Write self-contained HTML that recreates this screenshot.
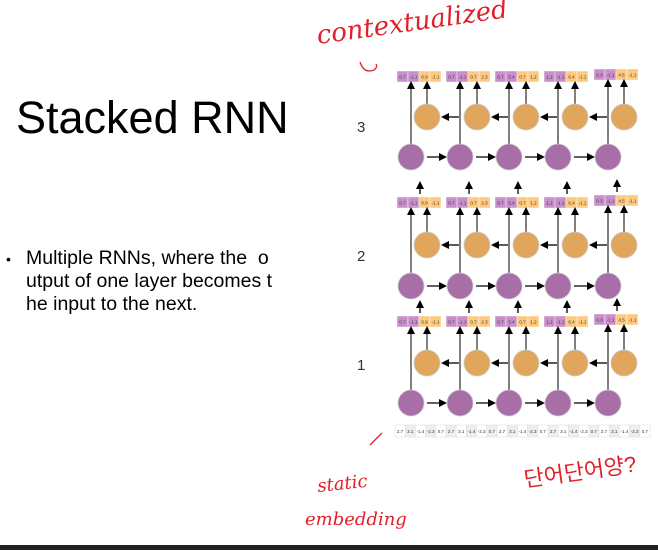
<!DOCTYPE html>
<html><head><meta charset="utf-8"><style>
html,body{margin:0;padding:0;background:#fff;}
body{width:658px;height:550px;position:relative;overflow:hidden;font-family:"Liberation Sans",sans-serif;}
</style></head><body>
<svg id="s" width="658" height="550" viewBox="0 0 658 550" xmlns="http://www.w3.org/2000/svg" font-family="Liberation Sans, sans-serif">
<defs><marker id="a" markerWidth="8" markerHeight="8" refX="6" refY="4" orient="auto" markerUnits="userSpaceOnUse"><path d="M0,0 L8,4 L0,8 z" fill="#000"/></marker></defs>
<text x="16" y="133" font-size="45" fill="#000">Stacked RNN</text>
<text x="6" y="264" font-size="14" fill="#000">•</text>
<text x="26" y="264" font-size="19.5" fill="#000" style="white-space:pre">Multiple RNNs, where the &#160;o</text>
<text x="26" y="287" font-size="19.5" fill="#000">utput of one layer becomes t</text>
<text x="26" y="310" font-size="19.5" fill="#000">he input to the next.</text>
<text x="357" y="132" font-size="15" fill="#333">3</text>
<text x="357" y="261" font-size="15" fill="#333">2</text>
<text x="357" y="370" font-size="15" fill="#333">1</text>
<g id="g"></g>
<text x="318" y="44" font-size="26" fill="#e0202a" font-family="DejaVu Serif, serif" font-style="italic" transform="rotate(-8 318 44)">contextualized</text>
<path d="M360,62 q4,12 14,8 q4,-3 2,-6" stroke="#e0202a" fill="none" stroke-width="1.3"/>
<path d="M370,445 l12,-12" stroke="#e0202a" fill="none" stroke-width="1.3"/>
<text x="318" y="492" font-size="18" fill="#e0202a" font-family="DejaVu Serif, serif" font-style="italic" transform="rotate(-6 318 492)">static</text>
<text x="305" y="525" font-size="18" fill="#e0202a" font-family="DejaVu Serif, serif" font-style="italic">embedding</text>
<text x="525" y="487" font-size="22" fill="#e0202a" font-family="WenQuanYi Zen Hei, sans-serif" transform="rotate(-8 525 487)">단어단어양?</text>
<rect x="0" y="545" width="658" height="5" fill="#222"/>
</svg>
<script>
var g=document.getElementById('g'),h='';
var px=[411,460,509,558,608],ox=[427,477,526,575,624];
var L=[{p:157,o:117,b:71},{p:286,o:245,b:197},{p:403,o:363,b:316}];
var vals=[["0.7","-1.1","0.9","-1.1"],["0.7","-1.1","0.7","2.3"],["0.7","5.4","0.7","1.2"],["1.2","-1.1","6.4","-1.1"],["0.3","-1.1","4.5","-1.1"]];
function ln(x1,y1,x2,y2,w){h+='<line x1="'+x1+'" y1="'+y1+'" x2="'+x2+'" y2="'+y2+'" stroke="'+(w?'#555':'#000')+'" stroke-width="'+(w||1.3)+'" marker-end="url(#a)"/>';}
L.forEach(function(l,li){
 for(var i=0;i<5;i++){
  var bx=px[i]-14,by=l.b-(i==4?2:0);
  var c=['#c88fca','#c88fca','#fdc97f','#fdc97f'];
  for(var k=0;k<4;k++){h+='<rect x="'+(bx+k*11)+'" y="'+by+'" width="11" height="11" fill="'+c[k]+'" stroke="#fff" stroke-width="0.4"/>';
   h+='<text x="'+(bx+k*11+5.5)+'" y="'+(by+7.5)+'" font-size="4.5" text-anchor="middle" fill="#333">'+vals[i][k]+'</text>';}
  ln(px[i],l.p-13,px[i],by+12,1.5);
  ln(ox[i],l.o-13,ox[i],by+12,1.5);
  if(i<4) ln(px[i]+16,l.p,px[i+1]-15,l.p);
  if(i<4) ln(px[i+1]-1,l.o,ox[i]+16,l.o);
  if(li>0){ln(px[i]+9,by-3,px[i]+9,by-14);}
 }
 for(var i=0;i<5;i++){h+='<circle cx="'+ox[i]+'" cy="'+l.o+'" r="13" fill="#e0a65c" stroke="#ccc" stroke-width="0.8"/>';
  h+='<circle cx="'+px[i]+'" cy="'+l.p+'" r="13" fill="#a86ea8" stroke="#ccc" stroke-width="0.8"/>';}
});
var ev=["2.7","3.1","-1.4","-2.3","0.7"];
for(var i=0;i<25;i++){var x=395+i*10.2;h+='<rect x="'+x+'" y="425" width="10.2" height="12" fill="'+(i%2?'#eee':'#fff')+'" stroke="#ddd" stroke-width="0.5"/><text x="'+(x+5)+'" y="433" font-size="4.5" text-anchor="middle" fill="#333">'+ev[i%5]+'</text>';}
g.innerHTML=h;
</script>
</body></html>
